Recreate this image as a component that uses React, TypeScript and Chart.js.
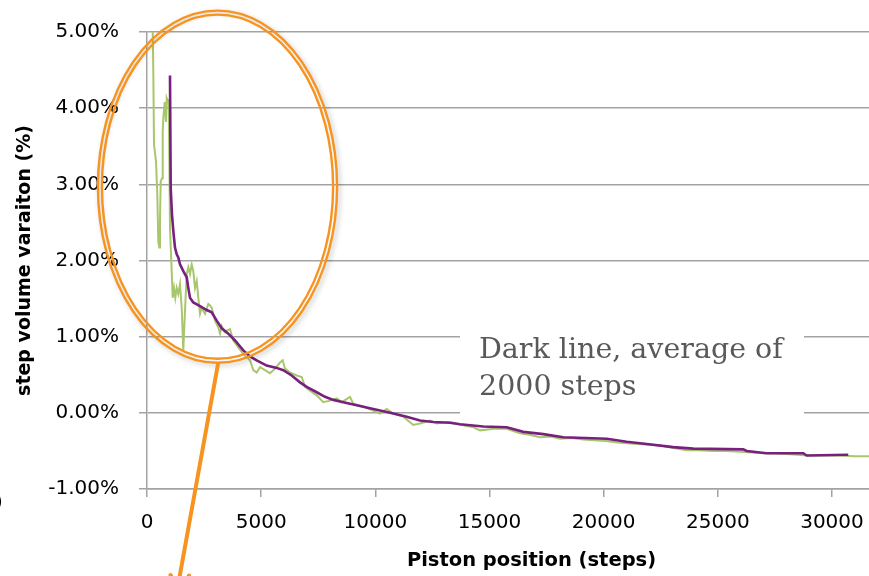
import React, { useEffect, useRef } from 'react';
import { Chart, registerables } from 'chart.js';

Chart.register(...registerables);

// Raw step volume variation (%) vs piston position (steps)
const rawSteps = [
  250, 276, 307, 394, 451, 495, 539, 569, 600, 657, 688, 714, 775, 832, 863, 920, 950, 977,
  1007, 1064, 1126, 1183, 1239, 1301, 1371, 1445, 1520, 1590, 1664, 1738, 1809, 1883, 1958,
  2028, 2102, 2177, 2247, 2321, 2396, 2540, 2685, 2759, 2834, 2978, 3123, 3200, 3272, 3400,
  3491, 3635, 3780, 3999, 4218, 4511, 4656, 4804, 4949, 5168, 5387, 5606, 5825, 5943, 6044,
  6263, 6556, 6775, 6920, 7139, 7432, 7721, 8015, 8308, 8527, 8891, 9035, 9473, 9911, 10204,
  10498, 10787, 11225, 11663, 11956, 12394, 12688, 13126, 13400, 13800, 14300, 14584, 15200,
  15754, 16336, 16800, 17212, 17700, 18088, 18600, 19109, 19600, 20100, 20600, 21009, 21500,
  22000, 22467, 23000, 23637, 24200, 24800, 25389, 25974, 26500, 27000, 27430, 28000, 28500,
  28892, 29500, 30000, 30351, 31000, 31621, 32200,
];
const rawVariation = [
  5.02, 4.48, 3.52, 3.3, 2.87, 2.25, 2.17, 2.52, 3.04, 3.08, 3.69, 3.87, 4.08, 3.82, 4.13, 4.08, 4.12, 3.39,
  2.43, 1.99, 1.51, 1.64, 1.51, 1.64, 1.56, 1.69, 1.38, 0.82, 1.34, 1.82, 1.91, 1.82, 1.95,
  1.86, 1.64, 1.73, 1.51, 1.3, 1.38, 1.3, 1.43, 1.41, 1.38, 1.21, 1.12, 1.04, 1.14, 1.06,
  1.08, 1.1, 0.95, 0.86, 0.77, 0.69, 0.56, 0.53, 0.6, 0.56, 0.52, 0.58, 0.66, 0.69, 0.58,
  0.53, 0.49, 0.47, 0.34, 0.29, 0.23, 0.14, 0.16, 0.19, 0.14, 0.21, 0.12, 0.08, 0.03, -0.01,
  0.05, -0.01, -0.05, -0.16, -0.14, -0.1, -0.14, -0.12, -0.13, -0.16, -0.19, -0.23, -0.21,
  -0.21, -0.27, -0.29, -0.32, -0.31, -0.34, -0.33, -0.35, -0.36, -0.37, -0.39, -0.4, -0.41,
  -0.42, -0.43, -0.46, -0.49, -0.49, -0.5, -0.5, -0.51, -0.52, -0.53, -0.53, -0.54, -0.55,
  -0.56, -0.56, -0.56, -0.56, -0.57, -0.57, -0.58,
];

// 2000-step running average
const avgSteps = [
  1007, 1038, 1095, 1152, 1226, 1301, 1371, 1445, 1590, 1739, 1809, 1883, 2028, 2321, 2615,
  2834, 3053, 3272, 3561, 3854, 4218, 4511, 4804, 5242, 5680, 5970, 6337, 6701, 6994, 7432,
  7796, 8159, 8597, 9184, 9622, 10204, 10787, 11374, 11956, 12539, 13270, 13708, 14729,
  15754, 16481, 17357, 18233, 20134, 21009, 21885, 23050, 23926, 26116, 26264, 27140, 28743,
  28892, 30714,
];
const avgVariation = [
  4.43, 2.95, 2.6, 2.39, 2.17, 2.08, 2.04, 1.95, 1.86, 1.78, 1.64, 1.51, 1.45, 1.4, 1.35,
  1.32, 1.21, 1.11, 1.04, 0.95, 0.82, 0.74, 0.69, 0.62, 0.59, 0.56, 0.49, 0.4, 0.34, 0.27,
  0.21, 0.17, 0.14, 0.1, 0.07, 0.03, -0.01, -0.05, -0.1, -0.12, -0.13, -0.15, -0.18,
  -0.19, -0.25, -0.28, -0.32, -0.34, -0.38, -0.41, -0.45, -0.47, -0.48, -0.5, -0.53, -0.53,
  -0.56, -0.55,
];

const xTickValues = [0, 5000, 10000, 15000, 20000, 25000, 30000];
const xMin = 0;
const xMax = 33680;
const yMin = -1;
const yMax = 5;
const yStep = 1;

const xTitle = 'Piston position (steps)';
const yTitle = 'step volume varaiton (%)';
const noteLines = ['Dark line, average of', '2000 steps'];

const GRID = '#A3A3A3';
const ORANGE = '#F7931E';

const overlayPlugin = {
  id: 'overlay',
  afterDraw(chart: any) {
    const ctx = chart.ctx as CanvasRenderingContext2D;
    ctx.save();
    // annotation box
    ctx.fillStyle = '#FFFFFF';
    ctx.fillRect(460, 320, 344, 95);
    ctx.fillStyle = '#595959';
    ctx.font = '28.5px "DejaVu Serif"';
    ctx.textAlign = 'left';
    ctx.textBaseline = 'alphabetic';
    ctx.fillText(noteLines[0], 479, 358);
    ctx.fillText(noteLines[1], 479, 395);

    // cut-off fragment on the left edge
    ctx.fillStyle = '#000';
    ctx.font = '20px "DejaVu Sans"';
    ctx.textBaseline = 'middle';
    ctx.fillText(')', -5, 503);

    // double-line ellipse with shadow
    ctx.strokeStyle = ORANGE;
    ctx.lineWidth = 2.4;
    ctx.shadowColor = 'rgba(0,0,0,0.25)';
    ctx.shadowBlur = 5;
    ctx.shadowOffsetX = 2;
    ctx.shadowOffsetY = 2;
    ctx.beginPath();
    ctx.ellipse(217.5, 186.7, 119.6, 176.1, 0, 0, Math.PI * 2);
    ctx.stroke();
    ctx.shadowColor = 'transparent';
    ctx.beginPath();
    ctx.ellipse(217.5, 186.7, 115.6, 172.1, 0, 0, Math.PI * 2);
    ctx.stroke();

    // pointer line
    ctx.lineWidth = 4;
    ctx.lineCap = 'round';
    ctx.beginPath();
    ctx.moveTo(218, 364);
    ctx.lineTo(179, 580);
    ctx.stroke();
    ctx.beginPath();
    ctx.moveTo(170.5, 575);
    ctx.lineTo(174, 582);
    ctx.moveTo(189, 575.5);
    ctx.lineTo(186, 582);
    ctx.stroke();
    ctx.restore();
  },
};

export default function App() {
  const canvasRef = useRef<HTMLCanvasElement | null>(null);

  useEffect(() => {
    const canvas = canvasRef.current;
    if (!canvas) return;
    const tickFont = { family: '"DejaVu Sans"', size: 20 };
    const chart = new Chart(canvas, {
      type: 'line',
      data: {
        datasets: [
          {
            label: 'Average of 2000 steps',
            data: avgSteps.map((s, i) => ({ x: s, y: avgVariation[i] })),
            borderColor: '#78207F',
            borderWidth: 2.6,
            pointRadius: 0,
            tension: 0,
            fill: false,
          },
          {
            label: 'Step volume variation',
            data: rawSteps.map((s, i) => ({ x: s, y: rawVariation[i] })),
            borderColor: '#A8C76C',
            borderWidth: 2,
            pointRadius: 0,
            tension: 0,
            fill: false,
          },
        ],
      },
      options: {
        responsive: false,
        animation: false,
        events: [],
        layout: { padding: { top: 30, right: 0, bottom: 0, left: 0 } },
        plugins: {
          legend: { display: false },
          tooltip: { enabled: false },
        },
        scales: {
          x: {
            type: 'linear',
            min: xMin,
            max: xMax,
            afterBuildTicks: (s: any) => {
              s.ticks = xTickValues.map((v) => ({ value: v }));
            },
            afterFit: (s: any) => {
              s.height = 87;
            },
            ticks: {
              autoSkip: false,
              maxRotation: 0,
              padding: 14,
              color: '#000',
              font: tickFont,
              callback: (v: any) => String(v),
            },
            grid: {
              drawOnChartArea: false,
              drawTicks: true,
              tickLength: 8,
              color: GRID,
              lineWidth: 1.5,
            },
            border: { display: true, color: GRID, width: 1.5 },
            title: {
              display: true,
              text: xTitle,
              color: '#000',
              font: { family: '"DejaVu Sans"', size: 19.5, weight: 'bold' },
              padding: { top: 0, bottom: 3 },
            },
          },
          y: {
            type: 'linear',
            min: yMin,
            max: yMax,
            afterFit: (s: any) => {
              s.width = 147;
            },
            ticks: {
              stepSize: yStep,
              padding: 20,
              color: '#000',
              font: tickFont,
              callback: (v: any) => Number(v).toFixed(2) + '%',
            },
            grid: {
              drawTicks: true,
              tickLength: 8,
              color: GRID,
              lineWidth: 1.5,
            },
            border: { display: true, color: GRID, width: 1.5 },
            title: {
              display: true,
              text: yTitle,
              color: '#000',
              font: { family: '"DejaVu Sans"', size: 19, weight: 'bold' },
              padding: { top: 14, bottom: 0 },
            },
          },
        },
      },
      plugins: [overlayPlugin],
    } as any);
    return () => chart.destroy();
  }, []);

  return (
    <div
      style={{
        position: 'fixed',
        left: 0,
        top: 0,
        width: 869,
        height: 576,
        overflow: 'hidden',
        background: '#fff',
      }}
    >
      <canvas ref={canvasRef} width={916} height={576} style={{ display: 'block' }} />
    </div>
  );
}
